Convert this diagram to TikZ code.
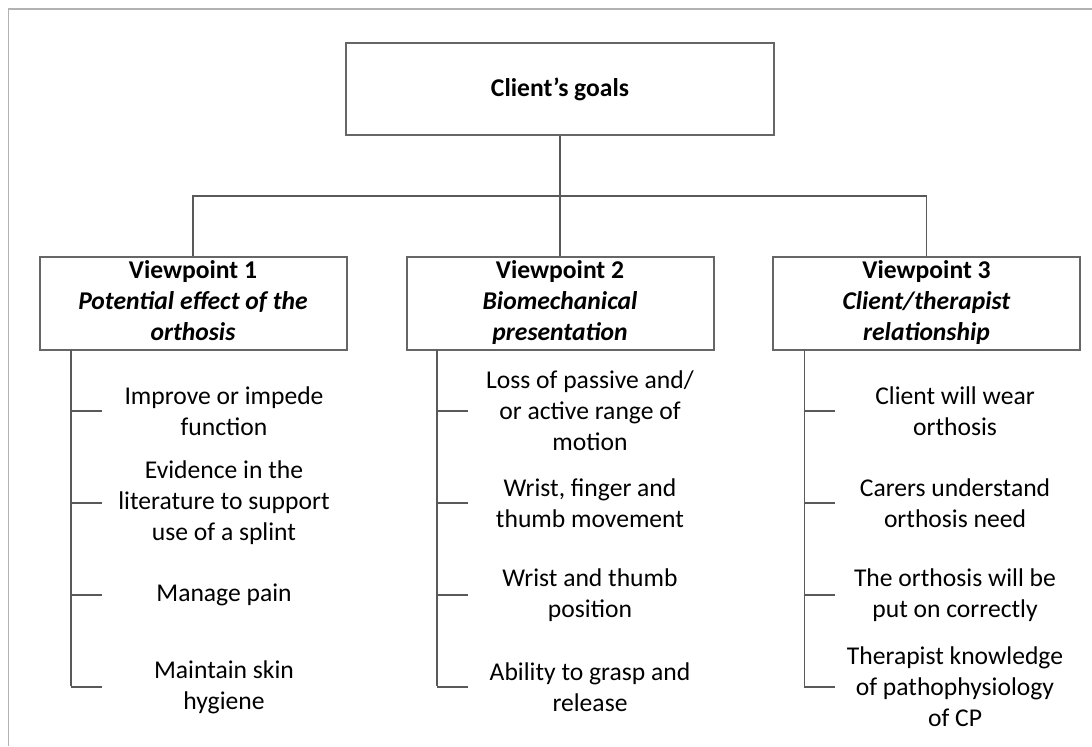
\documentclass[tikz,border=0pt]{standalone}
\usepackage{fontspec}
\setmainfont{Carlito}
\tikzstyle{goalbox}=[draw=black!60,line width=1pt,minimum width=214pt,minimum height=46pt,inner sep=0pt,font=\bfseries]
\tikzstyle{viewbox}=[draw=black!60,line width=1pt,minimum width=153.5pt,minimum height=46.5pt,inner sep=0pt,align=center,font=\bfseries]
\tikzstyle{item}=[align=center,inner sep=0pt]
\tikzstyle{link}=[draw=black!65,line width=0.9pt]
\tikzstyle{frame}=[draw=black!30,line width=0.7pt]

\begin{document}
\fontsize{12.8}{15.5}\selectfont
\begin{tikzpicture}[x=0.5pt,y=-0.5pt]
	\useasboundingbox (0,0) rectangle (1092,746);
	% outer frame, cut off at the right and bottom
	\draw[frame] (8.7,746) -- (8.7,9) -- (1092,9);

	% goal and the three viewpoints
	\node[goalbox] (goals) at (560,89) {Client’s goals};
	\node[viewbox] (v1) at (193,303.5) {\strut Viewpoint 1\\\textit{Potential effect of the}\\\textit{orthosis}\strut};
	\node[viewbox] (v2) at (560,303.5) {\strut Viewpoint 2\\\textit{Biomechanical}\\\textit{presentation}\strut};
	\node[viewbox] (v3) at (926.5,303.5) {\strut Viewpoint 3\\\textit{Client/therapist}\\\textit{relationship}\strut};

	\coordinate (fork) at (560,196);
	\path[link] (goals.south) -- (fork);
	\path[link] (v1.north) |- (fork) -| (v3.north);
	\path[link] (fork) -- (v2.north);

	% spines under each viewpoint
	\foreach \col/\sx in {1/70.7, 2/437, 3/804.4} {
		\coordinate (s\col) at (\sx,350);
		\coordinate (e\col) at (\sx,686);
		\path[link] (s\col) -- (e\col);
	}

	% items with their ticks
	\foreach \row/\y/\txt in {1/411/{Improve or impede\\function}, 2/503/{Evidence in the\\literature to support\\use of a splint},
							3/595/{Manage pain}, 4/687/{Maintain skin\\hygiene}} {
		\node[item] (a\row) at (224,\y) {\txt};
		\path[link] (s1 |- a\row) -- ++(31,0);
	}

	\foreach \row/\y/\txt in {1/411/{Loss of passive and/\\or active range of\\motion}, 2/503/{Wrist, finger and\\thumb movement},
							3/595/{Wrist and thumb\\position}, 4/687/{Ability to grasp and\\release}} {
		\node[item] (b\row) at (590,\y) {\txt};
		\path[link] (s2 |- b\row) -- ++(31,0);
	}

	\foreach \row/\y/\txt in {1/411/{Client will wear\\orthosis}, 2/503/{Carers understand\\orthosis need},
							3/595/{The orthosis will be\\put on correctly}, 4/687/{Therapist knowledge\\of pathophysiology\\of CP}} {
		\node[item] (c\row) at (955,\y) {\txt};
		\path[link] (s3 |- c\row) -- ++(31,0);
	}
\end{tikzpicture}
\end{document}
